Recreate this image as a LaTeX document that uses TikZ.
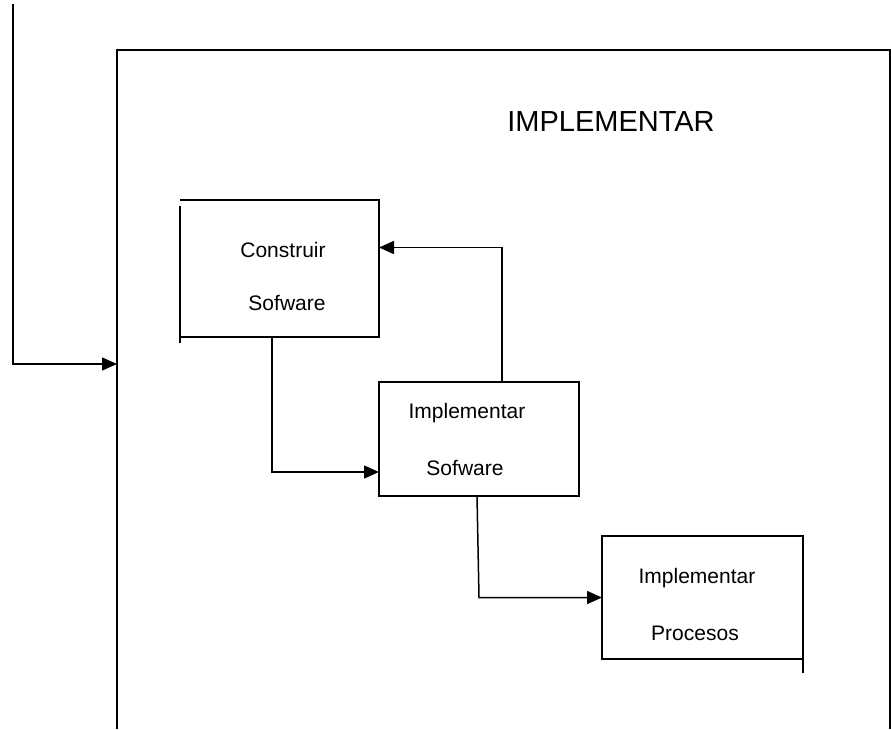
\documentclass[tikz,border=0pt]{standalone}
\usepackage{fontspec}
\setmainfont{Liberation Sans}
\usetikzlibrary{arrows.meta}
\begin{document}
\begin{tikzpicture}[x=1pt,y=-1pt,
  line width=1.5pt,
  box/.style={minimum width=#1, inner sep=0pt, outer sep=0pt},
  lbl/.style={font=\fontsize{21}{25}\selectfont, inner sep=0pt},
  title/.style={font=\fontsize{29}{34}\selectfont, inner sep=0pt},
  flow/.style={-{Triangle[length=15pt,width=13pt]}}
]
\useasboundingbox (0,0) rectangle (891,729);

% outer frame, open at the bottom
\coordinate (frameNW) at (117,50);
\coordinate (frameNE) at (890,50);
\coordinate (frameSW) at (117,729);
\coordinate (frameSE) at (890,729);
\draw (frameSW) -- (frameNW) -- (frameNE) -- (frameSE);
\node[title] (ttl) at (611,122) {IMPLEMENTAR};

% incoming line from the top
\coordinate (src) at (13,4);
\coordinate (entry) at (117,364);
\draw[flow] (src) |- (entry);

% activity boxes
\node[box=199pt, minimum height=137pt] (cs) at (279.5,268.5) {};
\node[box=200pt, minimum height=114pt, draw] (is) at (479,439) {};
\node[box=201pt, minimum height=123pt] (ip) at (702.5,597.5) {};

% Construir Sofware: left side drawn a little lower
\draw (cs.north west) -- (cs.north east) -- (cs.south east) -- (cs.south west);
\draw ([yshift=-6pt]cs.north west) -- ([yshift=-6pt]cs.south west);
% Implementar Procesos: right side runs past the bottom
\draw (ip.south east) -- (ip.south west) -- (ip.north west) -- (ip.north east) -- ([yshift=-14pt]ip.south east);

\node[lbl] at (283,250) {Construir};
\node[lbl] at (287,303) {Sofware};
\node[lbl] at (467,413) {Implementar};
\node[lbl] at (465,468) {Sofware};
\node[lbl] at (697,578) {Implementar};
\node[lbl] at (695,633) {Procesos};

% connectors between the activities
\draw[flow] (cs.south -| 272,0) |- ([yshift=-33pt]is.west);
\draw[flow] (is.north -| 502,0) |- ([yshift=21pt]cs.east);
\draw[flow] (is.south -| 477,0) -- (479,597.5) -- (ip.west);
\end{tikzpicture}
\end{document}
